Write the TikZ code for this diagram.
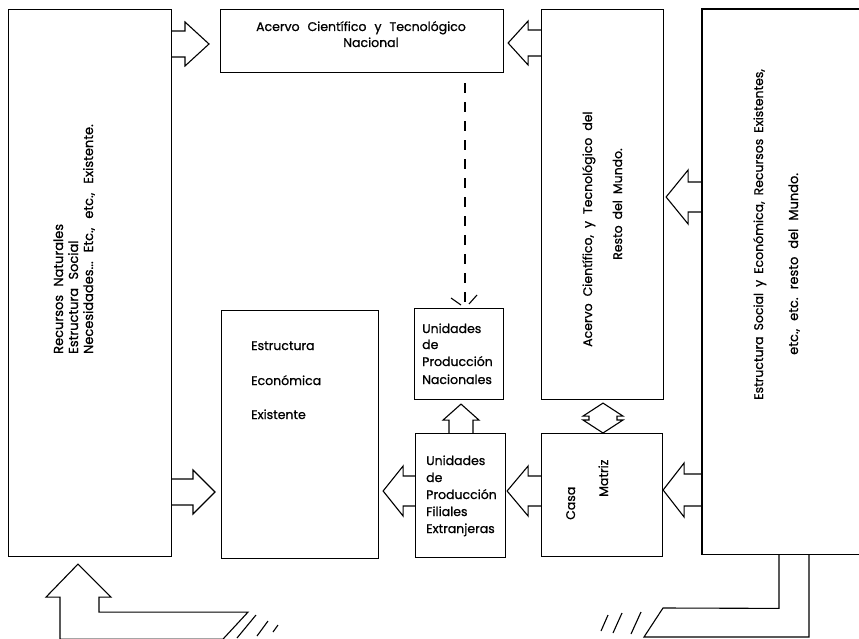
\documentclass[tikz,border=0pt]{standalone}
\usepackage{fontspec}
\setmainfont{Poppins}[WordSpace=2.4, FakeBold=0.9]
\usetikzlibrary{calc}

% Hollow block arrows between two named points (origin on a box edge, tip)
% #1 origin, #2 tip, #3 half width of the shaft, #4 half width of the head, #5 head length
\newcommand\flechader[5]{%
  \draw[bloque] let \p1=(#1), \p2=(#2) in
    (\x1,\y1+#3) -- (\x2-#5,\y1+#3) -- (\x2-#5,\y1+#4) -- (\x2,\y1)
    -- (\x2-#5,\y1-#4) -- (\x2-#5,\y1-#3) -- (\x1,\y1-#3);}
\newcommand\flechaizq[5]{%
  \draw[bloque] let \p1=(#1), \p2=(#2) in
    (\x1,\y1+#3) -- (\x2+#5,\y1+#3) -- (\x2+#5,\y1+#4) -- (\x2,\y1)
    -- (\x2+#5,\y1-#4) -- (\x2+#5,\y1-#3) -- (\x1,\y1-#3);}
\newcommand\flechaarr[5]{%
  \draw[bloque] let \p1=(#1), \p2=(#2) in
    (\x1-#3,\y1) -- (\x1-#3,\y2-#5) -- (\x1-#4,\y2-#5) -- (\x1,\y2)
    -- (\x1+#4,\y2-#5) -- (\x1+#3,\y2-#5) -- (\x1+#3,\y1);}
% two-headed vertical arrow: #1 upper tip, #2 lower tip
\newcommand\flechadoble[5]{%
  \draw[bloque] let \p1=(#1), \p2=(#2) in
    (\x1,\y1) -- (\x1+#4,\y1-#5) -- (\x1+#3,\y1-#5) -- (\x1+#3,\y2+#5)
    -- (\x1+#4,\y2+#5) -- (\x1,\y2) -- (\x1-#4,\y2+#5) -- (\x1-#3,\y2+#5)
    -- (\x1-#3,\y1-#5) -- (\x1-#4,\y1-#5) -- cycle;}

\begin{document}
\begin{tikzpicture}[x=1pt,y=-1pt,
  caja/.style={draw, line width=1.1pt, inner sep=0pt, anchor=north west},
  hueco/.style={inner sep=0pt, anchor=north west},
  bloque/.style={draw, line width=1.1pt, line join=miter},
  trazo/.style={line width=1.1pt},
  texto/.style={inner sep=0pt, font=\fontsize{12.5}{14}\selectfont},
  grande/.style={font=\fontsize{13}{15}\selectfont},
  espacio/.style={execute at begin node={\spaceskip=#1\relax\xspaceskip=#1\relax}},
  horiz/.style={texto, anchor=base west},
  vert/.style={texto, rotate=90, anchor=base west}]
\useasboundingbox (0,0) rectangle (859,639);

% boxes
\node[caja, minimum width=163pt, minimum height=547pt] (izq) at (8,9) {};
\node[caja, minimum width=283pt, minimum height=63pt] (acervoNac) at (220,9) {};
\node[caja, minimum width=122pt, minimum height=390pt] (acervoMundo) at (541,9) {};
\node[hueco, minimum width=157pt, minimum height=545pt] (mundo) at (702,9) {};
\draw[trazo] (mundo.north east) -- (mundo.north west) -- (mundo.south west) -- (mundo.south east);
\node[caja, minimum width=157pt, minimum height=248pt] (estructura) at (221,310) {};
\node[caja, minimum width=89pt, minimum height=91pt] (nacionales) at (414,308) {};
\node[caja, minimum width=90pt, minimum height=124pt] (filiales) at (415,433) {};
\node[caja, minimum width=121pt, minimum height=123pt] (casa) at (541,433) {};

% texts
\node[vert, grande] (r1) at (63,354) {Recursos Naturales};
\node[vert, grande] (r2) at (78,354) {Estructura Social};
\node[vert, grande, espacio=9pt] (r3) at (93,354) {Necesidades... Etc., etc., Existente.};

\node[texto, anchor=base] (n1) at (361,31) {Acervo Científico y Tecnológico};
\node[texto, anchor=base] (n2) at (371,47) {Nacional};

\node[vert, espacio=7pt] (m1) at (592,347) {Acervo Científico, y Tecnológico del};
\node[vert, espacio=6pt] (m2) at (622,260) {Resto del Mundo.};

\node[vert, espacio=6pt] (w1) at (763,400) {Estructura Social y Económica, Recursos Existentes,};
\node[vert, grande, espacio=8pt] (w2) at (798,355) {etc., etc. resto del Mundo.};

\node[horiz] (e1) at (251,350) {Estructura};
\node[horiz] (e2) at (251,385) {Económica};
\node[horiz] (e3) at (251,419) {Existente};

\node[horiz] (u1) at (422,333) {Unidades};
\node[horiz] (u2) at (422,349) {de};
\node[horiz] (u3) at (422,366) {Producción};
\node[horiz] (u4) at (422,384) {Nacionales};

\node[horiz] (f1) at (426,465) {Unidades};
\node[horiz] (f2) at (426,482) {de};
\node[horiz] (f3) at (426,499) {Producción};
\node[horiz] (f4) at (426,516) {Filiales};
\node[horiz] (f5) at (426,533) {Extranjeras};

\node[vert] (k1) at (575,520) {Casa};
\node[vert] (k2) at (608,497) {Matriz};

% arrow end points
\coordinate (a1o) at (izq.east |- 0,44);
\coordinate (a1p) at ($(acervoNac.west |- 0,44)+(-11,0)$);
\coordinate (a2o) at (acervoMundo.west |- 0,43);
\coordinate (a2p) at ($(acervoNac.east |- 0,43)+(4,0)$);
\coordinate (a3o) at (izq.east |- 0,492);
\coordinate (a3p) at ($(estructura.west |- 0,492)+(-6,0)$);
\coordinate (a4o) at (filiales.west |- 0,491);
\coordinate (a4p) at ($(estructura.east |- 0,491)+(4,0)$);
\coordinate (a5o) at (casa.west |- 0,491);
\coordinate (a5p) at ($(filiales.east |- 0,491)+(1,0)$);
\coordinate (a6o) at (mundo.west |- 0,490);
\coordinate (a6p) at (casa.east |- 0,490);
\coordinate (a7o) at (mundo.west |- 0,197);
\coordinate (a7p) at ($(acervoMundo.east |- 0,197)+(2,0)$);
\coordinate (a8o) at (filiales.north -| 461,0);
\coordinate (a8p) at ($(nacionales.south -| 461,0)+(0,4)$);
\coordinate (a9a) at ($(acervoMundo.south -| 603,0)+(0,3)$);
\coordinate (a9b) at (casa.north -| 603,0);

\flechader{a1o}{a1p}{13pt}{22pt}{24pt}
\flechaizq{a2o}{a2p}{13pt}{22pt}{20pt}
\flechader{a3o}{a3p}{13pt}{22pt}{22pt}
\flechaizq{a4o}{a4p}{15pt}{25pt}{20pt}
\flechaizq{a5o}{a5p}{15pt}{25pt}{21pt}
\flechaizq{a6o}{a6p}{16pt}{27pt}{21pt}
\flechaizq{a7o}{a7p}{15pt}{27pt}{22pt}
\flechaarr{a8o}{a8p}{12pt}{18pt}{16pt}
\flechadoble{a9a}{a9b}{14pt}{20pt}{13pt}

% dashed link from the national stock to the national units
\coordinate (d1) at ($(acervoNac.south -| 465,0)+(0,10)$);
\coordinate (d2) at ($(nacionales.north -| 465,0)+(0,-2)$);
\draw[trazo, dash pattern=on 10pt off 9pt] (d1) -- (d2);
\draw[trazo] ($(d2)+(-14,-8)$) -- ($(d2)+(-4,-1)$);
\draw[trazo] ($(d2)+(12,-11)$) -- ($(d2)+(4,-2)$);

% bottom left: bent hollow arrow into the resources box
\coordinate (b1) at ($(izq.south -| 78,0)+(0,7)$);
\draw[bloque] (b1) -- ++(33,33) -- ++(-12,0) -- ++(0,15) -- ++(149,0)
  -- ++(-25,27) -- ++(-163,0) -- ++(0,-42) -- ++(-14,0) -- cycle;
\draw[trazo] (256,615) -- (237,638);
\draw[trazo] (268,621) -- (257,636);
\draw[trazo] (278,625) -- (273,632);

% bottom right: bent band leaving the world structure box
\coordinate (c1) at (mundo.south -| 779,0);
\coordinate (c2) at (mundo.south -| 809,0);
\draw[trazo] (c1) -- ++(0,54) -- (663,608) -- (644,637) -- (c2 |- 0,637) -- (c2);
\draw[trazo] (608,615) -- (601,631);
\draw[trazo] (622,613) -- (613,633);
\draw[trazo] (641,612) -- (631,634);
\end{tikzpicture}
\end{document}
